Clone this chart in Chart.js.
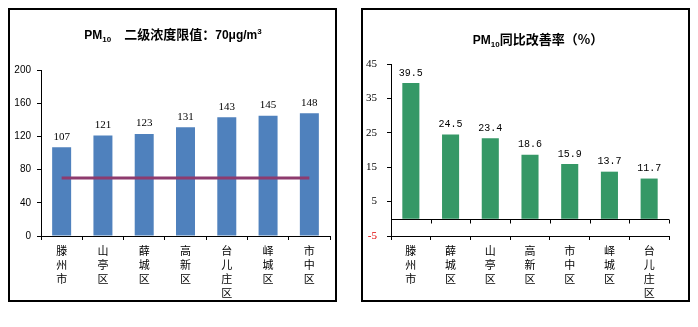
<!DOCTYPE html>
<html><head><meta charset="utf-8">
<script src="https://cdn.jsdelivr.net/npm/chart.js@4/dist/chart.umd.min.js"></script>
<style>
html,body{margin:0;padding:0;background:#fff;width:698px;height:327px;overflow:hidden;}
.box{position:absolute;border:2px solid #000;box-sizing:border-box;background:#fff;}
canvas{position:absolute;}
</style></head><body>
<div class="box" style="left:8px;top:8px;width:329px;height:294px;"></div>
<div class="box" style="left:361px;top:8px;width:329px;height:294px;"></div>
<canvas id="c1" style="left:10px;top:10px;width:325px;height:290px;"></canvas>
<canvas id="c2" style="left:363px;top:10px;width:325px;height:290px;"></canvas>
<script>
// ---- data ----
const leftCategories = ['滕州市','山亭区','薛城区','高新区','台儿庄区','峄城区','市中区'];
const leftValues = [107,121,123,131,143,145,148];
const limitValues = [70,70,70,70,70,70,70];
const leftTicks = [0,40,80,120,160,200];

const rightCategories = ['滕州市','薛城区','山亭区','高新区','市中区','峄城区','台儿庄区'];
const rightValues = [39.5,24.5,23.4,18.6,15.9,13.7,11.7];
const rightTicks = [-5,5,15,25,35,45];

const CJK = "'Noto Sans CJK SC'";

function drawRuns(ctx, runs, cx, cy){
  let total = 0;
  runs.forEach(r=>{ ctx.font = r.f; r.w = ctx.measureText(r.t).width; total += r.w; });
  let x = cx - total/2;
  ctx.textBaseline = 'alphabetic';
  ctx.textAlign = 'left';
  ctx.fillStyle = '#000';
  runs.forEach(r=>{ ctx.font = r.f; ctx.fillText(r.t, x, cy + (r.dy||0)); x += r.w; });
}

function titlePlugin(runs, cx, cy){
  return { id:'ttl', afterDraw(chart){ const ctx=chart.ctx; ctx.save(); drawRuns(ctx, runs, cx, cy); ctx.restore(); } };
}

const labelPlugin = (font, fmt, gap) => ({
  id:'vlabels',
  afterDatasetsDraw(chart){
    const ctx = chart.ctx; ctx.save();
    ctx.font = font; ctx.fillStyle = '#000'; ctx.textAlign='center'; ctx.textBaseline='bottom';
    const meta = chart.getDatasetMeta(0);
    meta.data.forEach((bar,i)=>{
      ctx.fillText(fmt(chart.data.datasets[0].data[i]), bar.x, bar.y - gap);
    });
    ctx.restore();
  }
});

function commonX(){
  return {
    type:'category', offset:true,
    grid:{display:true, drawOnChartArea:false, drawTicks:true, tickLength:4, color:'#000', offset:true},
    border:{display:true, color:'#000', width:1},
    ticks:{color:'#000', font:{family:CJK, size:11, lineHeight:1.27}, padding:4, maxRotation:0, autoSkip:false},
    afterFit(s){ s.height = 64; }
  };
}

// ---- left chart ----
new Chart(document.getElementById('c1'), {
  data:{
    labels: leftCategories.map(s=>s.split('')),
    datasets:[
      {type:'bar', data:leftValues, backgroundColor:'#4F81BD', barPercentage:0.46, categoryPercentage:1, order:2},
      {type:'line', data:limitValues, borderColor:'#8E3B6E', borderWidth:3, pointRadius:0, fill:false, order:1}
    ]
  },
  options:{
    responsive:false, animation:false, devicePixelRatio:1,
    layout:{padding:{top:60,right:5,left:0,bottom:0}},
    plugins:{legend:{display:false}, tooltip:{enabled:false}, title:{display:false}},
    scales:{
      x: commonX(),
      y:{
        min:0, max:200, afterBuildTicks(s){ s.ticks = leftTicks.map(v=>({value:v})); },
        grid:{display:true, drawOnChartArea:false, drawTicks:true, tickLength:4, color:'#000'},
        border:{display:true, color:'#000', width:1},
        ticks:{color:'#000', font:{family:'Liberation Sans', size:10}, padding:6},
        afterFit(s){ s.width = 31; }
      }
    }
  },
  plugins:[
    labelPlugin("11px 'Liberation Serif'", v=>String(v), 5),
    titlePlugin([
      {t:'PM', f:"bold 12px 'Liberation Sans'"},
      {t:'10', f:"bold 8px 'Liberation Sans'", dy:3},
      {t:'\u3000二级浓度限值：', f:"bold 13px "+CJK},
      {t:'70μg/m', f:"bold 12px 'Liberation Sans'"},
      {t:'3', f:"bold 8px 'Liberation Sans'", dy:-5}
    ], 163, 29)
  ]
});

// ---- right chart ----
const zeroLinePlugin = {
  id:'zeroLine',
  afterDraw(chart){
    const ctx = chart.ctx, x = chart.scales.x, y = chart.scales.y;
    const y0 = Math.round(y.getPixelForValue(0)) + 0.5;
    ctx.save(); ctx.strokeStyle='#000'; ctx.lineWidth=1;
    ctx.beginPath(); ctx.moveTo(x.left, y0); ctx.lineTo(x.right, y0);
    const n = chart.data.labels.length, step = (x.right - x.left)/n;
    for(let i=1;i<=n;i++){ const px = Math.round(x.left + step*i)+0.5; ctx.moveTo(px, y0); ctx.lineTo(px, y0+4); }
    ctx.stroke(); ctx.restore();
  }
};

new Chart(document.getElementById('c2'), {
  data:{
    labels: rightCategories.map(s=>s.split('')),
    datasets:[
      {type:'bar', data:rightValues, backgroundColor:'#359866', barPercentage:0.43, categoryPercentage:1}
    ]
  },
  options:{
    responsive:false, animation:false, devicePixelRatio:1,
    layout:{padding:{top:54,right:19,left:0,bottom:0}},
    plugins:{legend:{display:false}, tooltip:{enabled:false}, title:{display:false}},
    scales:{
      x: commonX(),
      y:{
        min:-5, max:45, afterBuildTicks(s){ s.ticks = rightTicks.map(v=>({value:v})); },
        grid:{display:true, drawOnChartArea:false, drawTicks:true, tickLength:4, color:'#000'},
        border:{display:true, color:'#000', width:1},
        ticks:{color:(c)=> c.tick && c.tick.value < 0 ? '#E00000' : '#000', font:{family:'Liberation Serif', size:11}, padding:10},
        afterFit(s){ s.width = 28; }
      }
    }
  },
  plugins:[
    zeroLinePlugin,
    labelPlugin("10px 'Liberation Mono'", v=>v.toFixed(1), 5),
    titlePlugin([
      {t:'PM', f:"bold 12px 'Liberation Sans'"},
      {t:'10', f:"bold 8px 'Liberation Sans'", dy:3},
      {t:'同比改善率（%）', f:"bold 13px "+CJK}
    ], 175, 34)
  ]
});
</script>
</body></html>
